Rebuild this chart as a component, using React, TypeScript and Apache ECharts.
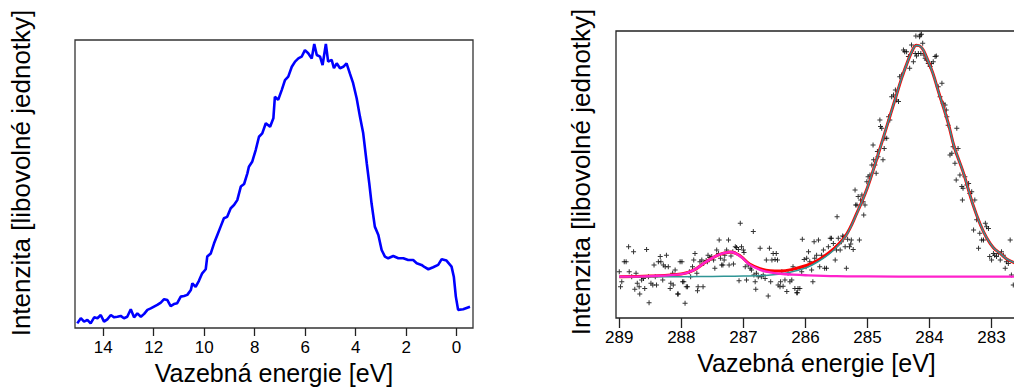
import React, { useEffect, useRef } from "react";
import * as echarts from "echarts";

// ---------- Left panel: valence band spectrum ----------
const vbEnergy = [15.03,14.89,14.76,14.63,14.50,14.36,14.23,14.10,13.97,13.84,13.70,13.57,13.44,13.31,13.18,13.05,12.91,12.78,12.65,12.51,12.38,12.25,12.12,11.99,11.86,11.72,11.59,11.46,11.33,11.20,11.07,10.93,10.80,10.67,10.53,10.47,10.34,10.21,10.08,9.94,9.88,9.74,9.61,9.48,9.35,9.22,9.09,8.95,8.82,8.69,8.55,8.42,8.29,8.23,8.10,7.96,7.83,7.70,7.56,7.39,7.26,7.20,7.07,6.93,6.80,6.67,6.53,6.40,6.27,6.14,6.01,5.88,5.74,5.64,5.54,5.41,5.31,5.18,5.09,4.95,4.86,4.75,4.62,4.49,4.36,4.23,4.10,3.96,3.83,3.70,3.56,3.46,3.37,3.24,3.10,2.97,2.84,2.71,2.51,2.31,2.11,1.92,1.72,1.58,1.39,1.26,1.12,0.93,0.73,0.59,0.40,0.20,0.11,0.03,-0.06,-0.26,-0.53];
const vbIntensity = [1.6,3.4,2.2,2.8,1.6,3.7,3.4,4.5,2.2,3.0,4.5,3.7,3.9,4.2,3.4,3.9,6.5,3.7,5.1,3.9,4.9,6.3,6.8,7.4,8.0,8.8,10.0,9.7,7.6,8.3,8.6,10.9,11.1,11.5,13.2,15.5,14.3,16.4,19.0,20.4,24.8,25.9,29.4,32.3,35.2,38.1,38.6,41.6,42.7,44.4,49.1,50.0,53.7,56.0,57.7,61.8,66.4,67.6,71.1,69.9,72.8,80.3,79.2,82.6,86.1,87.3,90.7,92.5,93.6,94.2,96.5,95.4,93.6,98.6,94.8,94.2,91.3,98.6,92.5,93.1,90.2,91.9,90.2,90.7,91.9,88.4,85.0,79.8,73.4,67.6,57.2,50.2,43.3,35.2,32.3,27.1,24.8,24.2,25.0,24.2,24.2,23.6,23.6,22.5,21.9,21.1,20.4,21.1,21.9,23.9,23.4,21.3,17.8,10.9,6.3,6.5,7.4];
const vbTicks = [0, 2, 4, 6, 8, 10, 12, 14];

// ---------- Right panel: C 1s spectrum with fit ----------
const c1sMeasured: number[][] = [
[289.00,16.1],[288.98,10.9],[288.96,12.6],[288.92,19.6],[288.89,19.6],[288.85,24.8],[288.84,16.1],[288.80,14.4],[288.77,23.1],[288.75,10.0],
[288.73,15.6],[288.71,12.1],[288.68,10.9],[288.67,8.4],[288.64,13.2],[288.61,13.8],[288.59,10.3],[288.56,23.9],[288.53,14.4],[288.52,5.3],
[288.49,12.1],[288.46,11.5],[288.44,18.5],[288.42,14.4],[288.40,11.5],[288.37,19.6],[288.34,21.4],[288.33,19.6],[288.30,13.2],[288.29,18.5],
[288.26,17.9],[288.24,21.9],[288.21,17.9],[288.18,10.3],[288.17,12.1],[288.14,15.6],[288.13,11.5],[288.10,16.7],[288.06,8.4],[288.05,8.4],
[288.02,19.6],[287.99,19.6],[287.98,12.6],[287.96,12.6],[287.94,5.1],[287.92,10.9],[287.90,10.9],[287.87,16.1],[287.85,14.4],[287.82,17.9],
[287.80,20.2],[287.78,22.5],[287.75,15.6],[287.74,9.5],[287.73,10.9],[287.70,19.6],[287.67,20.2],[287.65,10.9],[287.64,19.0],[287.60,20.0],
[287.58,19.6],[287.57,21.9],[287.54,21.1],[287.51,21.4],[287.48,20.2],[287.46,17.3],[287.43,23.7],[287.40,22.5],[287.39,27.2],[287.37,20.8],
[287.35,18.5],[287.33,18.5],[287.31,20.2],[287.30,21.9],[287.27,23.7],[287.24,27.2],[287.23,18.5],[287.20,21.6],[287.17,23.1],[287.16,18.8],
[287.13,24.8],[287.11,24.6],[287.08,23.9],[287.07,13.0],[287.05,33.0],[287.03,24.8],[287.00,23.7],[286.99,22.8],[286.97,17.9],[286.95,13.2],
[286.92,18.5],[286.89,17.3],[286.87,16.7],[286.84,30.1],[286.83,15.0],[286.81,12.6],[286.80,10.0],[286.79,15.6],[286.76,14.4],[286.73,24.3],
[286.71,14.4],[286.68,15.0],[286.65,13.8],[286.63,20.2],[286.60,7.7],[286.58,24.3],[286.56,12.6],[286.54,20.2],[286.52,22.5],[286.49,20.4],
[286.47,22.5],[286.45,20.2],[286.44,11.5],[286.41,10.9],[286.40,12.6],[286.38,16.1],[286.36,11.1],[286.33,13.2],[286.30,9.2],[286.28,15.6],
[286.25,12.6],[286.22,13.2],[286.20,17.9],[286.17,10.3],[286.14,8.8],[286.13,8.8],[286.12,10.3],[286.09,10.3],[286.06,16.1],[286.05,27.4],
[286.02,20.4],[285.99,17.9],[285.98,20.8],[285.95,23.1],[285.93,19.6],[285.90,16.7],[285.88,12.6],[285.86,26.6],[285.85,20.8],[285.82,21.9],
[285.79,27.2],[285.77,17.9],[285.74,21.9],[285.71,23.7],[285.69,17.3],[285.66,17.3],[285.63,24.8],[285.60,27.8],[285.58,27.8],[285.55,26.0],
[285.52,20.2],[285.50,23.7],[285.49,35.3],[285.47,27.8],[285.44,23.7],[285.42,26.6],[285.40,28.6],[285.38,28.3],[285.36,24.8],[285.34,17.3],
[285.32,27.4],[285.29,24.8],[285.27,25.8],[285.26,27.2],[285.23,23.9],[285.20,44.6],[285.19,39.4],[285.17,39.4],[285.15,42.3],[285.13,27.2],
[285.11,41.1],[285.09,42.9],[285.07,40.5],[285.06,35.9],[285.04,39.4],[285.01,47.5],[284.99,49.2],[284.96,49.8],[284.93,53.3],[284.91,60.3],
[284.90,55.1],[284.88,53.3],[284.86,50.4],[284.84,58.0],[284.83,56.2],[284.80,69.0],[284.79,66.7],[284.77,66.1],[284.75,55.1],[284.73,59.1],
[284.72,62.6],[284.69,62.6],[284.66,70.1],[284.64,69.0],[284.61,77.1],[284.58,77.7],[284.55,79.4],[284.53,76.0],[284.50,75.4],[284.48,84.1],
[284.45,84.7],[284.42,93.4],[284.40,92.8],[284.37,92.8],[284.34,91.1],[284.32,87.0],[284.29,95.1],[284.26,89.3],[284.23,92.2],[284.22,98.3],
[284.21,91.3],[284.18,92.2],[284.16,98.0],[284.15,98.6],[284.14,92.2],[284.13,98.9],[284.11,95.7],[284.09,91.6],[284.07,90.5],[284.05,89.9],
[284.02,88.7],[283.99,87.6],[283.97,88.7],[283.94,89.3],[283.91,91.1],[283.89,91.3],[283.86,80.6],[283.83,77.1],[283.80,81.8],[283.78,74.8],
[283.75,74.2],[283.73,72.5],[283.72,70.1],[283.70,67.2],[283.67,56.8],[283.64,57.4],[283.62,59.7],[283.59,53.9],[283.57,48.1],[283.56,66.1],
[283.54,59.1],[283.51,49.8],[283.48,45.8],[283.47,41.1],[283.46,45.2],[283.43,49.2],[283.40,46.3],[283.37,46.9],[283.35,43.4],[283.32,44.0],
[283.29,30.7],[283.27,41.1],[283.24,34.2],[283.21,24.3],[283.19,29.5],[283.16,27.2],[283.13,27.2],[283.10,33.0],[283.08,31.8],[283.05,31.2],
[283.03,21.4],[283.00,20.2],[282.97,22.5],[282.95,21.9],[282.92,21.4],[282.89,22.5],[282.86,20.2],[282.84,23.1],[282.81,21.9],[282.78,17.3],
[282.76,19.6],[282.73,19.0],[282.70,27.2],[282.68,15.0],[282.65,11.5]
];

const fitTotal: number[][] = [
[289.0,14.4],[288.5,14.6],[288.0,15.3],[287.8,16.7],[287.6,19.6],[287.4,22.0],[287.2,23.0],[287.05,21.6],[286.9,18.8],[286.73,17.2],
[286.57,16.5],[286.4,16.4],[286.2,17.0],[286.0,18.2],[285.8,20.1],[285.55,24.0],[285.35,28.7],[285.17,36.6],[285.0,45.5],[284.85,55.5],
[284.7,66.0],[284.55,76.5],[284.45,83.5],[284.35,89.5],[284.27,93.5],[284.21,95.0],[284.13,94.3],[284.05,91.0],[283.95,85.5],[283.85,78.5],
[283.7,68.0],[283.6,59.5],[283.46,51.0],[283.3,39.5],[283.18,32.5],[283.08,28.0],[282.97,24.5],[282.86,22.5],[282.75,20.5],[282.6,19.0]
];
const fitMainPeak: number[][] = [
[289.0,14.4],[288.5,14.4],[288.0,14.4],[287.5,14.5],[287.0,14.6],[286.6,14.9],[286.3,15.7],[286.0,17.4],[285.8,19.6],[285.55,23.5],
[285.35,28.5],[285.17,36.5],[285.0,45.5],[284.85,55.5],[284.7,66.0],[284.55,76.5],[284.45,83.5],[284.35,89.5],[284.27,93.5],[284.21,95.0],
[284.13,94.3],[284.05,91.0],[283.95,85.5],[283.85,78.5],[283.7,68.0],[283.6,59.5],[283.46,51.0],[283.3,39.5],[283.18,32.5],[283.08,28.0],
[282.97,24.5],[282.86,22.5],[282.75,20.5],[282.6,19.0]
];
const fitSmallPeak: number[][] = [
[289.0,14.4],[288.5,14.6],[288.0,15.3],[287.8,16.7],[287.6,19.6],[287.4,22.0],[287.2,23.0],[287.05,21.5],[286.9,18.6],[286.73,16.8],
[286.57,15.9],[286.4,15.4],[286.2,15.1],[286.0,14.9],[285.5,14.6],[285.0,14.5],[284.0,14.4],[282.6,14.4]
];
const c1sTicks = [283, 284, 285, 286, 287, 288, 289];

const FONT = "'Liberation Sans', Arial, Helvetica, sans-serif";
const xTitle = "Vazebná energie [eV]";
const yTitle = "Intenzita [libovolné jednotky]";
const plusSymbol = "path://M2,0h1v5h-1z M0,2h5v1h-5z";

export default function App() {
  const ref = useRef<HTMLDivElement>(null);
  useEffect(() => {
    if (!ref.current) return;
    const chart = echarts.init(ref.current, null, { renderer: "svg" });
    const axisCommon = {
      type: "value",
      inverse: true,
      nameLocation: "middle",
      nameTextStyle: { fontSize: 25, color: "#000", fontFamily: FONT },
      axisLine: { show: false },
      splitLine: { show: false },
      axisLabel: { fontSize: 17, color: "#000", fontFamily: FONT, margin: 11 },
    };
    chart.setOption({
      animation: false,
      backgroundColor: "#fff",
      grid: [
        { left: 75, top: 40, width: 398, height: 288, show: true, borderColor: "#333", borderWidth: 1.3, backgroundColor: "transparent", outerBoundsMode: "none", containLabel: false },
        { left: 616, top: 31, width: 401, height: 287, show: true, borderColor: "#222", borderWidth: 1.3, backgroundColor: "transparent", outerBoundsMode: "none", containLabel: false },
      ],
      xAxis: [
        {
          ...axisCommon,
          gridIndex: 0,
          min: -0.65,
          max: 15.12,
          name: xTitle,
          nameGap: 29,
          axisTick: { show: true, length: 8, lineStyle: { color: "#222", width: 1.3 }, customValues: vbTicks },
          axisLabel: { ...axisCommon.axisLabel, customValues: vbTicks },
        },
        {
          ...axisCommon,
          gridIndex: 1,
          min: 282.59,
          max: 289.053,
          name: xTitle,
          nameGap: 32,
          axisTick: { show: true, length: 10, lineStyle: { color: "#222", width: 1.3 }, customValues: c1sTicks },
          axisLabel: { ...axisCommon.axisLabel, customValues: c1sTicks },
        },
      ],
      yAxis: [
        { type: "value", gridIndex: 0, min: 0, max: 100, show: false },
        { type: "value", gridIndex: 1, min: 0, max: 100, show: false },
      ],
      graphic: [
        {
          type: "text",
          x: 21,
          y: 173,
          rotation: Math.PI / 2,
          style: { text: yTitle, fontSize: 26, fontFamily: FONT, fill: "#000", textAlign: "center", textVerticalAlign: "middle" },
        },
        {
          type: "text",
          x: 581,
          y: 172,
          rotation: Math.PI / 2,
          style: { text: yTitle, fontSize: 26, fontFamily: FONT, fill: "#000", textAlign: "center", textVerticalAlign: "middle" },
        },
      ],
      series: [
        {
          type: "line",
          xAxisIndex: 0,
          yAxisIndex: 0,
          data: vbEnergy.map((e, i) => [e, vbIntensity[i]]),
          showSymbol: false,
          lineStyle: { color: "#0000ff", width: 2.6 },
        },
        {
          type: "scatter",
          xAxisIndex: 1,
          yAxisIndex: 1,
          data: c1sMeasured,
          symbol: plusSymbol,
          symbolSize: 5,
          itemStyle: { color: "#000" },
        },
        {
          type: "line",
          xAxisIndex: 1,
          yAxisIndex: 1,
          data: fitTotal,
          smooth: 0.4,
          showSymbol: false,
          lineStyle: { color: "#ff0000", width: 3 },
        },
        {
          type: "line",
          xAxisIndex: 1,
          yAxisIndex: 1,
          data: fitMainPeak,
          smooth: 0.4,
          showSymbol: false,
          lineStyle: { color: "#2f9595", width: 1.5 },
        },
        {
          type: "line",
          xAxisIndex: 1,
          yAxisIndex: 1,
          data: fitSmallPeak,
          smooth: 0.4,
          showSymbol: false,
          lineStyle: { color: "#ff22cc", width: 2.4 },
        },
      ],
    });
    return () => chart.dispose();
  }, []);
  return <div ref={ref} style={{ position: "absolute", left: 0, top: 0, width: 1014, height: 389 }} />;
}
